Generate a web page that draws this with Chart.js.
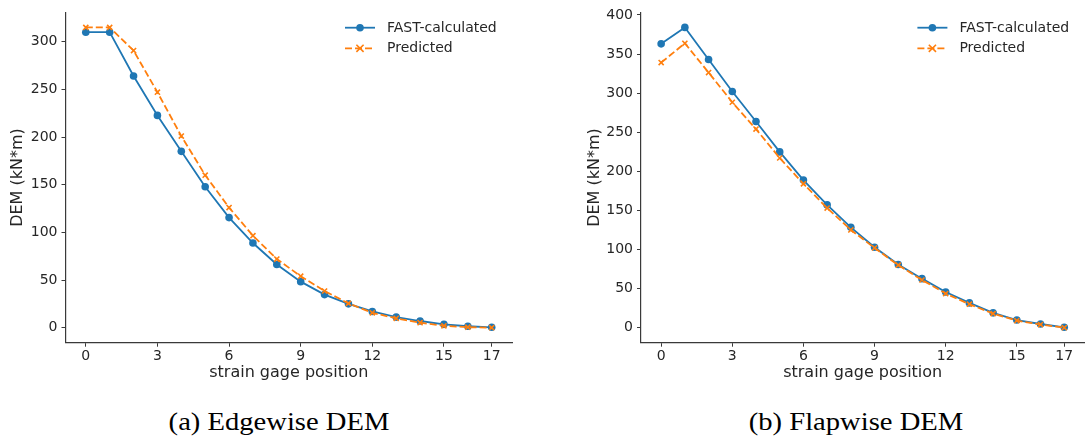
<!DOCTYPE html>
<html>
<head>
<meta charset="utf-8">
<script src="https://cdn.jsdelivr.net/npm/chart.js@4.4.1/dist/chart.umd.min.js"></script>
<style>
  html, body { margin: 0; padding: 0; background: #fff; overflow: hidden; width: 1085px; height: 437px; position: relative; }
  canvas { position: absolute; top: 0; }
  #edgeChart { left: 0; }
  #flapChart { left: 540px; }
  .caption { position: absolute; top: 409px; font-family: "Liberation Serif", "Times New Roman", serif; font-size: 26px; line-height: 26px; color: #000; white-space: nowrap; transform: translateX(-50%) scaleX(1.1); }
</style>
</head>
<body>
<canvas id="edgeChart" width="540" height="400"></canvas>
<canvas id="flapChart" width="550" height="400"></canvas>
<div class="caption" style="left:279px">(a) Edgewise DEM</div>
<div class="caption" style="left:856px">(b) Flapwise DEM</div>
<script>
// strain gage index along the blade
const gagePositions = [0, 1, 2, 3, 4, 5, 6, 7, 8, 9, 10, 11, 12, 13, 14, 15, 16, 17];
const xTickValues = [0, 3, 6, 9, 12, 15, 17];

// edgewise damage-equivalent moment (kN*m)
const edgeFast = [310, 310, 264, 222.7, 185, 147.8, 115.5, 88.8, 66.3, 48.3, 34.7, 25, 17, 11.1, 7, 3.5, 1.5, 0.4];
const edgePred = [315, 315, 290.7, 247, 201, 160, 126, 96.5, 72, 54, 38.5, 25.5, 15.6, 9.8, 5.2, 2, 0.5, 0];
const edgeYTicks = [0, 50, 100, 150, 200, 250, 300];

// flapwise damage-equivalent moment (kN*m)
const flapFast = [363, 384, 343, 302, 263.7, 224.8, 188.8, 157, 128.3, 102.9, 80.9, 62.7, 45.7, 31.7, 19, 9.8, 4.7, 0.5];
const flapPred = [339, 363.7, 326.3, 288.3, 254, 217, 184, 153, 125, 102, 80, 61, 43.7, 30, 18, 9, 4, 0];
const flapYTicks = [0, 50, 100, 150, 200, 250, 300, 350, 400];

const seriesNames = ['FAST-calculated', 'Predicted'];

const BLUE = '#1f77b4';
const ORANGE = '#ff7f0e';
const TEXT = '#262626';
const SPINE = '#3a3a3a';
const FONT = 'DejaVu Sans';

function drawMarker(ctx, style, x, y, color) {
  ctx.save();
  if (style === 'circle') {
    ctx.fillStyle = color;
    ctx.beginPath(); ctx.arc(x, y, 3.8, 0, Math.PI * 2); ctx.fill();
  } else {
    const r = 3.6;
    ctx.strokeStyle = color; ctx.lineWidth = 1.6; ctx.setLineDash([]);
    ctx.beginPath();
    ctx.moveTo(x - r, y - r); ctx.lineTo(x + r, y + r);
    ctx.moveTo(x - r, y + r); ctx.lineTo(x + r, y - r);
    ctx.stroke();
  }
  ctx.restore();
}

// matplotlib-style legend: line sample with marker in the middle
const lineLegend = {
  id: 'lineLegend',
  afterDraw(chart, args, opts) {
    const ctx = chart.ctx;
    const x0 = chart.chartArea.right - opts.inset;
    const items = [chart.data.datasets[0], chart.data.datasets[1]];
    items.forEach((ds, i) => {
      const y = opts.top + i * opts.rowGap;
      ctx.save();
      ctx.strokeStyle = ds.borderColor;
      ctx.lineWidth = ds.borderWidth;
      ctx.setLineDash(ds.borderDash || []);
      ctx.beginPath(); ctx.moveTo(x0, y); ctx.lineTo(x0 + 30, y); ctx.stroke();
      ctx.restore();
      drawMarker(ctx, ds.legendMarker, x0 + 15, y, ds.borderColor);
      ctx.save();
      ctx.fillStyle = TEXT;
      ctx.font = '14px "' + FONT + '"';
      ctx.textBaseline = 'middle';
      ctx.fillText(seriesNames[i], x0 + 42, y + 0.5);
      ctx.restore();
    });
  }
};

function makeChart(id, fast, pred, yTicks, axisWidth, titlePad) {
  const all = fast.concat(pred);
  const lo = Math.min(...all), hi = Math.max(...all);
  const margin = (hi - lo) * 0.05;
  const tickCfg = { color: TEXT, font: { family: FONT, size: 14 }, padding: 4 };
  const gridCfg = { display: true, drawOnChartArea: false, drawTicks: true, tickLength: 4, color: SPINE, lineWidth: 1 };
  return new Chart(document.getElementById(id), {
    type: 'line',
    data: {
      datasets: [
        { label: seriesNames[0], data: gagePositions.map((p, i) => ({ x: p, y: fast[i] })),
          borderColor: BLUE, backgroundColor: BLUE, borderWidth: 1.8, pointStyle: 'circle',
          pointRadius: 3.8, pointBorderWidth: 0, legendMarker: 'circle', order: 1, tension: 0 },
        { label: seriesNames[1], data: gagePositions.map((p, i) => ({ x: p, y: pred[i] })),
          borderColor: ORANGE, backgroundColor: ORANGE, borderWidth: 1.8, borderDash: [7, 3],
          pointStyle: 'crossRot', pointRadius: 3.6, pointBorderWidth: 1.6, legendMarker: 'x', order: 0, tension: 0 }
      ]
    },
    options: {
      responsive: false,
      animation: false,
      devicePixelRatio: 1,
      events: [],
      layout: { padding: { left: 0, top: 10, right: id === 'edgeChart' ? 28 : 3, bottom: 12.3 } },
      plugins: {
        legend: { display: false },
        tooltip: { enabled: false },
        lineLegend: { inset: 167, top: 27.7, rowGap: 20.6 }
      },
      scales: {
        x: {
          type: 'linear', min: -0.85, max: 17.85,
          afterBuildTicks: s => { s.ticks = xTickValues.map(v => ({ value: v })); },
          afterFit: s => { s.height = 45; },
          ticks: Object.assign({}, tickCfg, { padding: 1 }),
          grid: gridCfg,
          border: { display: true, color: SPINE, width: 1.2 },
          title: { display: true, text: 'strain gage position', color: TEXT, font: { family: FONT, size: 16 }, padding: { top: 0, bottom: 5.4 } }
        },
        y: {
          type: 'linear', min: lo - margin, max: hi + margin,
          afterBuildTicks: s => { s.ticks = yTicks.map(v => ({ value: v })); },
          afterFit: s => { s.width = axisWidth; },
          ticks: tickCfg,
          grid: gridCfg,
          border: { display: true, color: SPINE, width: 1.2 },
          title: { display: true, text: 'DEM (kN*m)', color: TEXT, font: { family: FONT, size: 16 }, padding: { top: titlePad, bottom: 0 } }
        }
      }
    },
    plugins: [lineLegend]
  });
}

makeChart('edgeChart', edgeFast, edgePred, edgeYTicks, 65.5, 8.4);
makeChart('flapChart', flapFast, flapPred, flapYTicks, 101, 45.4);
</script>
</body>
</html>
